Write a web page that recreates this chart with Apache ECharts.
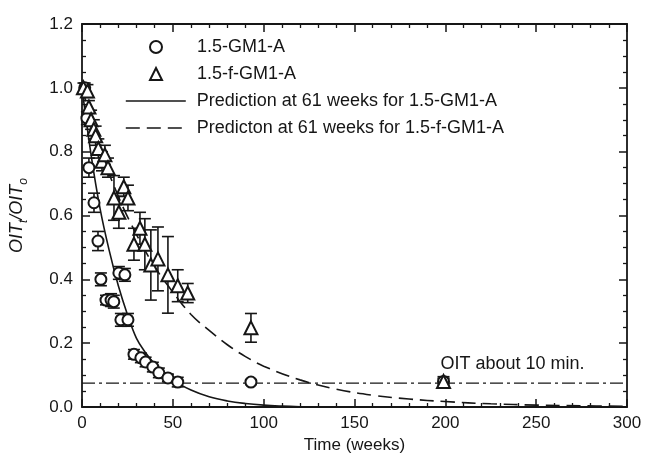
<!DOCTYPE html>
<html><head><meta charset="utf-8">
<script src="https://cdn.jsdelivr.net/npm/echarts@6/dist/echarts.min.js"></script>
<style>html,body{margin:0;padding:0;background:#fff}#c{width:645px;height:460px}</style>
</head><body><div id="c"></div>
<script>
// ---- data ----
const weeksGM = [1.5, 2.7, 3.8, 6.6, 8.8, 10.4, 13.2, 16, 17.5, 20.3, 23.6, 21.4, 25.3, 28.6, 32.4, 35, 39, 42.3, 47.3, 52.7, 93, 199];
const oitGM   = [1.00, 0.905, 0.75, 0.64, 0.52, 0.40, 0.335, 0.335, 0.33, 0.42, 0.414, 0.273, 0.273, 0.165, 0.154, 0.141, 0.125, 0.107, 0.091, 0.078, 0.078, 0.08];
const errGM   = [0.015, 0.02, 0.03, 0.03, 0.03, 0.02, 0.015, 0.02, 0.02, 0.02, 0.02, 0.02, 0.02, 0.015, 0.015, 0.015, 0.015, 0.015, 0.012, 0.015, 0.008, 0.01];

const weeksFGM = [0.8, 3, 3.8, 5, 6.5, 7.5, 9, 11, 12.6, 14.3, 17.6, 20.3, 23, 25.3, 28.6, 31.9, 34.6, 37.9, 41.8, 47.3, 52.7, 58.2, 93, 199];
const oitFGM   = [1.00, 0.99, 0.94, 0.90, 0.87, 0.85, 0.81, 0.77, 0.79, 0.75, 0.655, 0.61, 0.69, 0.655, 0.51, 0.56, 0.51, 0.445, 0.464, 0.414, 0.38, 0.357, 0.248, 0.08];
const errFGM   = [0.015, 0.02, 0.02, 0.03, 0.03, 0.03, 0.03, 0.03, 0.03, 0.03, 0.07, 0.05, 0.03, 0.04, 0.05, 0.05, 0.08, 0.11, 0.10, 0.12, 0.05, 0.03, 0.045, 0.015];

const predWeeksGM = [0, 5, 10, 15, 20, 25, 30, 35, 40, 50, 60, 70, 80, 90, 100, 110, 120];
const predGM      = [1.0, 0.79, 0.62, 0.49, 0.38, 0.29, 0.215, 0.17, 0.135, 0.085, 0.053, 0.032, 0.019, 0.011, 0.006, 0.003, 0.001];

const predWeeksFGM = [0, 10, 20, 30, 40, 50, 60, 70, 80, 90, 100, 120, 140, 160, 180, 200, 225, 250, 275, 300];
const predFGM      = [1.0, 0.81, 0.66, 0.54, 0.44, 0.36, 0.29, 0.24, 0.195, 0.158, 0.128, 0.085, 0.056, 0.037, 0.025, 0.017, 0.01, 0.006, 0.004, 0.002];

const refWeeks = [0, 300];
const refLevel = 0.075;
const refText = 'OIT about 10 min.';
const refTextWeek = 237;

const xTicks = [0, 50, 100, 150, 200, 250, 300];
const yTicks = [0.0, 0.2, 0.4, 0.6, 0.8, 1.0, 1.2];

const seriesNames = ['1.5-GM1-A', '1.5-f-GM1-A', 'Prediction at 61 weeks for 1.5-GM1-A', 'Predicton at 61 weeks for 1.5-f-GM1-A'];

// ---- chart ----
const FONT = '"Liberation Sans", Arial, sans-serif';
const INK = '#161616';
const DASH = [14, 7];
const chart = echarts.init(document.getElementById('c'), null, {renderer: 'canvas'});

const zip = (xs, ys) => xs.map((x, i) => [x, ys[i]]);
const errData = (xs, ys, es) => xs.map((x, i) => [x, ys[i] - es[i], ys[i] + es[i]]);

function errRender(params, api) {
  const x = api.value(0);
  const lo = api.coord([x, api.value(1)]);
  const hi = api.coord([x, api.value(2)]);
  const hw = 6;
  const st = {stroke: INK, lineWidth: 1.6, fill: null};
  return {type: 'group', children: [
    {type: 'line', shape: {x1: lo[0], y1: lo[1], x2: hi[0], y2: hi[1]}, style: st},
    {type: 'line', shape: {x1: lo[0] - hw, y1: lo[1], x2: lo[0] + hw, y2: lo[1]}, style: st},
    {type: 'line', shape: {x1: hi[0] - hw, y1: hi[1], x2: hi[0] + hw, y2: hi[1]}, style: st}
  ]};
}

const xMin = xTicks[0], xMax = xTicks[xTicks.length - 1], xInt = xTicks[1] - xTicks[0];
const yMin = yTicks[0], yMax = yTicks[yTicks.length - 1], yInt = +(yTicks[1] - yTicks[0]).toFixed(2);

const axisLine = {show: true, onZero: false, lineStyle: {color: INK, width: 1.8}};
const axisTick = {show: true, inside: true, length: 8, lineStyle: {color: INK, width: 1.5}};
const minorX = {show: true, splitNumber: 5, length: 4, lineStyle: {color: INK, width: 1.3}};
const minorY = {show: true, splitNumber: 4, length: 4, lineStyle: {color: INK, width: 1.3}};
const legendText = {fontFamily: FONT, fontSize: 18, color: INK};

chart.setOption({
  animation: false,
  backgroundColor: '#fff',
  grid: {left: 81, right: 18, top: 24, bottom: 53, containLabel: false},
  legend: [
    {
      orient: 'vertical', left: 144, top: 33, itemWidth: 12, itemHeight: 12, itemGap: 9,
      data: [seriesNames[0], seriesNames[1]],
      textStyle: Object.assign({padding: [0, 0, 0, 30]}, legendText)
    },
    {
      orient: 'vertical', left: 120, top: 87, itemWidth: 60, itemHeight: 12, itemGap: 9,
      data: [
        {name: seriesNames[2], icon: 'line', itemStyle: {color: INK, borderColor: INK, borderWidth: 1.6, borderType: 'solid'}},
        {name: seriesNames[3], icon: 'line', itemStyle: {color: INK, borderColor: INK, borderWidth: 1.6, borderType: DASH}}
      ],
      textStyle: Object.assign({padding: [0, 0, 0, 6]}, legendText)
    }
  ],
  xAxis: [
    {type: 'value', min: xMin, max: xMax, interval: xInt, position: 'bottom',
      name: 'Time (weeks)', nameLocation: 'middle', nameGap: 28,
      nameTextStyle: {fontFamily: FONT, fontSize: 17, color: INK},
      axisLabel: {fontFamily: FONT, fontSize: 17, color: INK, margin: 8},
      axisLine, axisTick, minorTick: minorX, splitLine: {show: false}},
    {type: 'value', min: xMin, max: xMax, interval: xInt, position: 'top',
      axisLabel: {show: false}, axisLine, axisTick, minorTick: minorX, splitLine: {show: false}}
  ],
  yAxis: [
    {type: 'value', min: yMin, max: yMax, interval: yInt, position: 'left',
      name: '{i|OIT}{s|t}{i|/OIT}{s|o}', nameLocation: 'middle', nameGap: 52, nameRotate: 90,
      nameTextStyle: {fontFamily: FONT, color: INK, rich: {
        i: {fontFamily: FONT, fontSize: 18, fontStyle: 'italic', color: INK, lineHeight: 26, verticalAlign: 'middle'},
        s: {fontFamily: FONT, fontSize: 12, fontStyle: 'italic', color: INK, lineHeight: 12, verticalAlign: 'bottom'}
      }},
      axisLabel: {fontFamily: FONT, fontSize: 17, color: INK, margin: 9, formatter: v => v.toFixed(1)},
      axisLine, axisTick, minorTick: minorY, splitLine: {show: false}},
    {type: 'value', min: yMin, max: yMax, interval: yInt, position: 'right',
      axisLabel: {show: false}, axisLine, axisTick, minorTick: minorY, splitLine: {show: false}}
  ],
  series: [
    {type: 'line', name: 'ref', data: zip(refWeeks, [refLevel, refLevel]), symbol: 'none', silent: true,
     lineStyle: {color: INK, width: 1.3, type: [13, 4, 3, 4]}, z: 1,
     markPoint: {symbol: 'circle', symbolSize: 0, silent: true,
       data: [{coord: [refTextWeek, refLevel], value: refText}],
       label: {show: true, formatter: refText, position: 'top', distance: 10, fontFamily: FONT, fontSize: 18, color: INK}}
    },
    {type: 'line', name: seriesNames[2], data: zip(predWeeksGM, predGM), symbol: 'none', smooth: 0.4,
     lineStyle: {color: INK, width: 1.6, type: 'solid'}, itemStyle: {color: INK}, z: 2},
    {type: 'line', name: seriesNames[3], data: zip(predWeeksFGM, predFGM), symbol: 'none', smooth: 0.4,
     lineStyle: {color: INK, width: 1.6, type: DASH}, itemStyle: {color: INK}, z: 2},
    {type: 'custom', name: 'errGM', renderItem: errRender, data: errData(weeksGM, oitGM, errGM), z: 3, silent: true},
    {type: 'custom', name: 'errFGM', renderItem: errRender, data: errData(weeksFGM, oitFGM, errFGM), z: 3, silent: true},
    {type: 'scatter', name: seriesNames[0], data: zip(weeksGM, oitGM), symbol: 'circle', symbolSize: 11,
     itemStyle: {color: '#fff', borderColor: INK, borderWidth: 2, opacity: 1}, z: 5},
    {type: 'scatter', name: seriesNames[1], data: zip(weeksFGM, oitFGM), symbol: 'triangle', symbolSize: 13,
     itemStyle: {color: '#fff', borderColor: INK, borderWidth: 2, opacity: 1}, z: 5}
  ]
});
</script></body></html>
